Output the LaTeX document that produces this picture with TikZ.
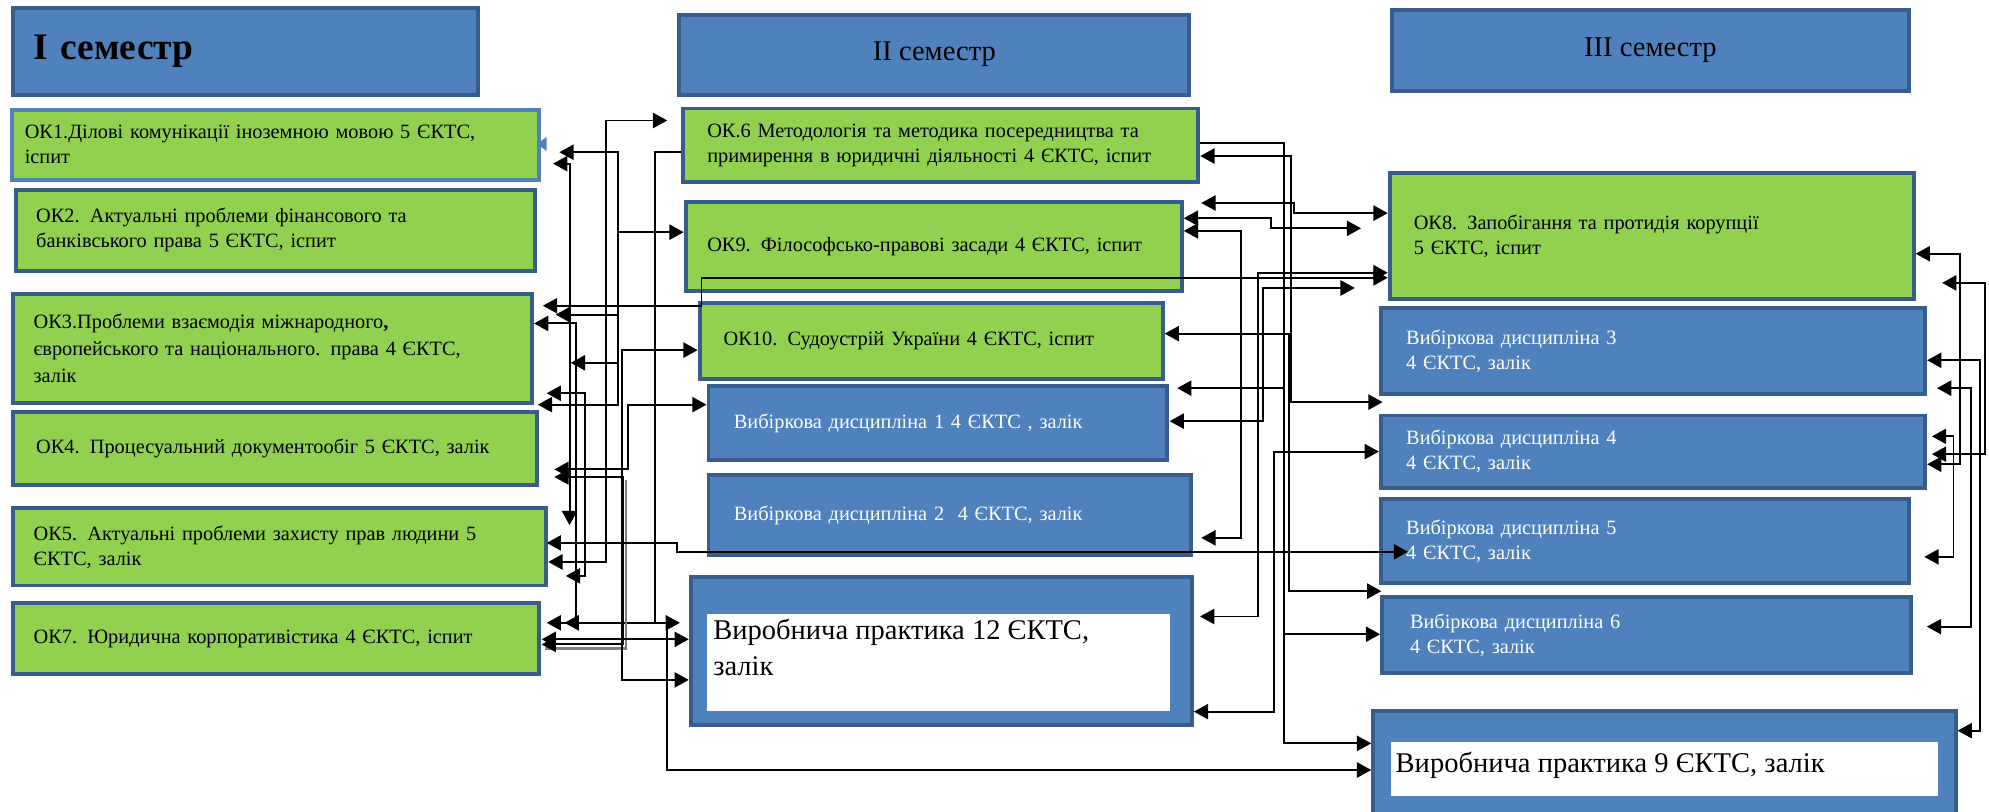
\documentclass[tikz,border=0pt]{standalone}
\usepackage{fontspec}
\setmainfont{Liberation Serif}
\usetikzlibrary{arrows.meta}

\definecolor{okgreen}{RGB}{146,208,80}
\definecolor{vbblue}{RGB}{79,129,189}
\definecolor{boxline}{RGB}{56,93,138}

\tikzset{
  okbox/.style={draw=boxline, line width=2.2pt, fill=okgreen, anchor=north west,
    inner sep=0pt, align=left, font=\fontsize{11.4}{14}\selectfont},
  vbbox/.style={okbox, fill=vbblue, text=white},
  semhead/.style={draw=boxline, line width=2.2pt, fill=vbblue, anchor=north west,
    inner sep=0pt, font=\fontsize{16}{19}\selectfont},
  vpbox/.style={draw=boxline, line width=2.2pt, fill=vbblue, anchor=north west, inner sep=0pt},
  vpin/.style={fill=white, anchor=north west, inner sep=0pt},
  link/.style={-{Triangle[length=8pt,width=8.5pt]}, line width=1.1pt},
  dlink/.style={{Triangle[length=8pt,width=8.5pt]}-{Triangle[length=8pt,width=8.5pt]}, line width=1.1pt},
}

\begin{document}
\begin{tikzpicture}[x=0.025cm, y=-0.025cm]
  \fill[white] (0,0) rectangle (1568,640);
  \useasboundingbox (0,0) rectangle (1568,640);

  % semester I
  \node[semhead, minimum width=9.15cm, minimum height=1.7cm, text width=8.35cm, align=left,
    font=\fontsize{21}{24}\selectfont\bfseries] (sem1) at (9,5) {\raisebox{-2pt}{I семестр}};
  \node[okbox, draw=vbblue, minimum width=10.375cm, minimum height=1.375cm, text width=9.875cm] (ok1) at (8,85)
    {ОК1.Ділові комунікації іноземною мовою 5 ЄКТС,\\іспит};
  \node[okbox, minimum width=10.225cm, minimum height=1.6cm, text width=9.425cm] (ok2) at (11,148)
    {ОК2. Актуальні проблеми фінансового та\\банківського права 5 ЄКТС, іспит};
  \node[okbox, minimum width=10.225cm, minimum height=2.15cm, text width=9.425cm,
    font=\fontsize{11.4}{15}\selectfont] (ok3) at (9,230)
    {ОК3.Проблеми взаємодія міжнародного\textbf{,}\\європейського та національного. права 4 ЄКТС,\\залік};
  \node[okbox, minimum width=10.325cm, minimum height=1.45cm, text width=9.425cm] (ok4) at (9,323)
    {ОК4. Процесуальний документообіг 5 ЄКТС, залік};
  \node[okbox, minimum width=10.5cm, minimum height=1.525cm, text width=9.7cm] (ok5) at (9,399)
    {ОК5. Актуальні проблеми захисту прав людини 5\\ЄКТС, залік};
  \node[okbox, minimum width=10.35cm, minimum height=1.4cm, text width=9.55cm] (ok7) at (9,474)
    {ОК7. Юридична корпоративістика 4 ЄКТС, іспит};
  \fill[vbblue] (423,113.5) -- (431,108) -- (431,119) -- cycle;

  % semester II
  \node[semhead, minimum width=10.05cm, minimum height=1.575cm] (sem2) at (534,10) {II семестр};
  \node[okbox, minimum width=10.15cm, minimum height=1.45cm, text width=9.2cm] (ok6) at (537,84)
    {ОК.6 Методологія та методика посередництва та\\примирення в юридичні діяльності 4 ЄКТС, іспит};
  \node[okbox, minimum width=9.775cm, minimum height=1.75cm, text width=8.925cm] (ok9) at (539,158)
    {ОК9. Філософсько-правові засади 4 ЄКТС, іспит};
  \node[okbox, minimum width=9.125cm, minimum height=1.5cm, text width=8.175cm] (ok10) at (550,237)
    {ОК10. Судоустрій України 4 ЄКТС, іспит};
  \node[vbbox, minimum width=9.025cm, minimum height=1.45cm, text width=8.025cm] (vb1) at (557,303)
    {Вибіркова дисципліна 1 4 ЄКТС , залік};
  \node[vbbox, minimum width=9.5cm, minimum height=1.575cm, text width=8.5cm] (vb2) at (557,373)
    {Вибіркова дисципліна 2 \ 4 ЄКТС, залік};
  \node[vpbox, minimum width=9.875cm, minimum height=2.925cm] (vp12) at (543,453) {};
  \node[vpin, minimum width=9.125cm, minimum height=1.9cm] (vp12in) at (557,484) {};
  \node[anchor=north west, inner sep=0pt, align=left, font=\fontsize{16}{20}\selectfont] (vp12txt) at (562,488)
    {Виробнича практика 12 ЄКТС,\\залік};

  % semester III
  \node[semhead, minimum width=10.175cm, minimum height=1.6cm] (sem3) at (1096,6) {III семестр};
  \node[okbox, minimum width=10.325cm, minimum height=2.475cm, text width=9.375cm] (ok8) at (1094,135)
    {ОК8. Запобігання та протидія корупції\\5 ЄКТС, іспит};
  \node[vbbox, minimum width=10.725cm, minimum height=1.7cm, text width=9.725cm] (vb3) at (1087,241)
    {Вибіркова дисципліна 3\\4 ЄКТС, залік};
  \node[vbbox, minimum width=10.725cm, minimum height=1.425cm, text width=9.725cm] (vb4) at (1087,326)
    {Вибіркова дисципліна 4\\4 ЄКТС, залік};
  \node[vbbox, minimum width=10.4cm, minimum height=1.65cm, text width=9.4cm] (vb5) at (1087,392)
    {Вибіркова дисципліна 5\\4 ЄКТС, залік};
  \node[vbbox, minimum width=10.425cm, minimum height=1.5cm, text width=9.325cm] (vb6) at (1088,469)
    {Вибіркова дисципліна 6\\4 ЄКТС, залік};
  \node[vpbox, minimum width=11.475cm, minimum height=2.2cm] (vp9) at (1081,559) {};
  \node[vpin, minimum width=10.775cm, minimum height=1.05cm] (vp9in) at (1096,585) {};
  \node[anchor=west, inner sep=0pt, font=\fontsize{16}{20}\selectfont] (vp9txt) at (1100,603)
    {Виробнича практика 9 ЄКТС, залік};

  % links between I and II
  \draw[dlink] (ok5.east |- 0,443) -| (478,95) -- (526,95);
  \draw[link] (ok6.west |- 0,120) -| (516,491) -- (445,491);
  \draw[dlink] (441,120) -| (487,319) -- (424,319);
  \draw[link] (487,183) -- (ok9.west |- 0,183);
  \draw[link] (487,248) -- (438,248);
  \draw[link] (487,286) -- (450,286);
  \draw[dlink] (428,241) -| (553,219) -- (ok8.west |- 0,219);
  \draw[dlink] (449,414) |- (436,129);
  \draw[dlink] (421,255) -| (454,491) -- (431,491);
  \draw[dlink] (431,310) -| (461,454) -- (446,454);
  \draw[dlink] (437,370) -| (495,319) -- (vb1.west |- 0,319);
  \draw[gray, line width=1.6pt] (493.5,378) |- (430,511.5);
  \draw[dlink] (437,376) -| (491,508) -- (427,508);
  \draw[dlink] (ok10.west |- 0,276) -| (490,536) -- (vp12.west |- 0,536);
  \draw[dlink] (427,504) -- (vp12.west |- 0,504);
  \draw[link] (516,491) -- (536,491);
  \draw[link] (526,491) |- (vp9.west |- 0,607);
  \draw[dlink] (431,428) -| (534,435) -- (1110,435);

  % links between II and III
  \draw[link] (ok6.east |- 0,113) -| (1012,586) -- (vp9.west |- 0,586);
  \draw[link] (1012,500) -- (vb6.west |- 0,500);
  \draw[link] (1012,306) -- (928,306);
  \draw[dlink] (ok6.east |- 0,123) -| (1018,317) -- (1090,317);
  \draw[dlink] (947,160) -| (1020,168) -- (ok8.west |- 0,168);
  \draw[dlink] (ok9.east |- 0,172) -| (1002,180) -- (1073,180);
  \draw[dlink] (ok9.east |- 0,182) -| (978,424) -- (947,424);
  \draw[dlink] (ok8.west |- 0,215) -| (992,486) -- (946,486);
  \draw[dlink] (1068,227) -| (996,332) -- (922,332);
  \draw[dlink] (ok10.east |- 0,263) -| (1016,466) -- (1089,466);
  \draw[dlink] (vb4.west |- 0,356) -| (1004,561) -- (vp12.east |- 0,561);

  % links inside III
  \draw[dlink] (ok8.east |- 0,200) -| (1545,366) -- (vb4.east |- 0,366);
  \draw[dlink] (1531,223) -| (1565,358) -- (1523,358);
  \draw[dlink] (vb3.east |- 0,284) -| (1561,576) -- (vp9.east |- 0,576);
  \draw[dlink] (1527,306) -| (1554,494) -- (1519,494);
  \draw[dlink] (1523,344) -| (1540,439) -- (1517,439);
\end{tikzpicture}
\end{document}
